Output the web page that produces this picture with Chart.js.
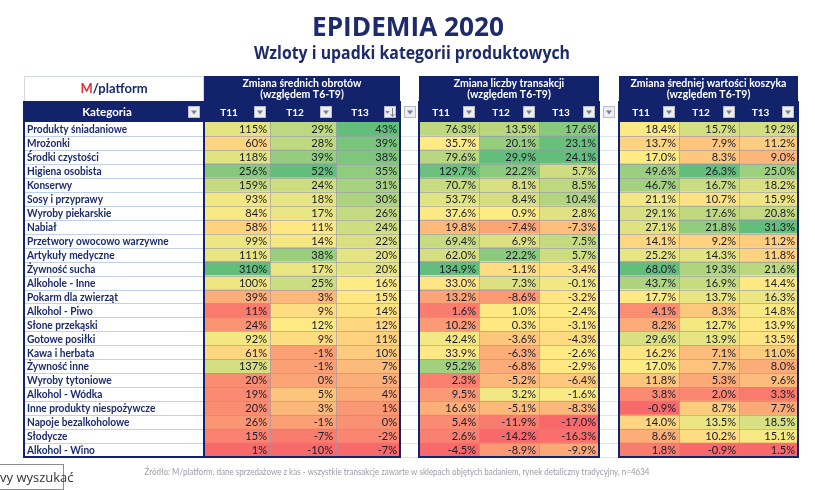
<!DOCTYPE html>
<html><head><meta charset="utf-8">
<script src="https://cdn.jsdelivr.net/npm/chart.js@4.4.0/dist/chart.umd.min.js"></script>
<style>
html,body{margin:0;padding:0;background:#fff;}
#wrap{position:relative;width:815px;height:490px;overflow:hidden;}
#search{position:absolute;left:-3px;top:464px;width:67px;height:26px;border:1px solid #8c8c8c;background:#fff;font:13px "Open Sans",sans-serif;color:#333;line-height:24px;box-sizing:border-box;padding-left:2px;white-space:nowrap;}
</style></head><body>
<div id="wrap"><canvas id="c" width="815" height="490"></canvas><div id="search">vy wyszukać</div></div>
<script>
// ---------- DATA ----------
const titleText = 'EPIDEMIA 2020';
const subtitleText = 'Wzloty i upadki kategorii produktowych';
const sourceText = 'Źródło: M/platform, dane sprzedażowe z kas - wszystkie transakcje zawarte w sklepach objętych badaniem, rynek detaliczny tradycyjny, n=4634';
const categoryHeader = 'Kategoria';
const periods = ['T11', 'T12', 'T13'];
const groupTitles = [
  ['Zmiana średnich obrotów', '(względem T6-T9)'],
  ['Zmiana liczby transakcji', '(względem T6-T9)'],
  ['Zmiana średniej wartości koszyka', '(względem T6-T9)']
];
const categories = [
  'Produkty śniadaniowe', 'Mrożonki', 'Środki czystości', 'Higiena osobista', 'Konserwy',
  'Sosy i przyprawy', 'Wyroby piekarskie', 'Nabiał', 'Przetwory owocowo warzywne', 'Artykuły medyczne',
  'Żywność sucha', 'Alkohole - Inne', 'Pokarm dla zwierząt', 'Alkohol - Piwo', 'Słone przekąski',
  'Gotowe posiłki', 'Kawa i herbata', 'Żywność inne', 'Wyroby tytoniowe', 'Alkohol - Wódka',
  'Inne produkty niespożywcze', 'Napoje bezalkoholowe', 'Słodycze', 'Alkohol - Wino'
];
const obrotyT11 = [115, 60, 118, 256, 159, 93, 84, 58, 99, 111, 310, 100, 39, 11, 24, 92, 61, 137, 20, 19, 20, 26, 15, 1];
const obrotyT12 = [29, 28, 39, 52, 24, 18, 17, 11, 14, 38, 17, 25, 3, 9, 12, 9, -1, -1, 0, 5, 3, -1, -7, -10];
const obrotyT13 = [43, 39, 38, 35, 31, 30, 26, 24, 22, 20, 20, 16, 15, 14, 12, 11, 10, 7, 5, 4, 1, 0, -2, -7];
const transT11 = [76.3, 35.7, 79.6, 129.7, 70.7, 53.7, 37.6, 19.8, 69.4, 62.0, 134.9, 33.0, 13.2, 1.6, 10.2, 42.4, 33.9, 95.2, 2.3, 9.5, 16.6, 5.4, 2.6, -4.5];
const transT12 = [13.5, 20.1, 29.9, 22.2, 8.1, 8.4, 0.9, -7.4, 6.9, 22.2, -1.1, 7.3, -8.6, 1.0, 0.3, -3.6, -6.3, -6.8, -5.2, 3.2, -5.1, -11.9, -14.2, -8.9];
const transT13 = [17.6, 23.1, 24.1, 5.7, 8.5, 10.4, 2.8, -7.3, 7.5, 5.7, -3.4, -0.1, -3.2, -2.4, -3.1, -4.3, -2.6, -2.9, -6.4, -1.6, -8.3, -17.0, -16.3, -9.9];
const koszykT11 = [18.4, 13.7, 17.0, 49.6, 46.7, 21.1, 29.1, 27.1, 14.1, 25.2, 68.0, 43.7, 17.7, 4.1, 8.2, 29.6, 16.2, 17.0, 11.8, 3.8, -0.9, 14.0, 8.6, 1.8];
const koszykT12 = [15.7, 7.9, 8.3, 26.3, 16.7, 10.7, 17.6, 21.8, 9.2, 14.3, 19.3, 16.9, 13.7, 8.3, 12.7, 13.9, 7.1, 7.7, 5.3, 2.0, 8.7, 13.5, 10.2, -0.9];
const koszykT13 = [19.2, 11.2, 9.0, 25.0, 18.2, 15.9, 20.8, 31.3, 11.2, 11.8, 21.6, 14.4, 16.3, 14.8, 13.9, 13.5, 11.0, 8.0, 9.6, 3.3, 7.7, 18.5, 15.1, 1.5];

// ---------- LAYOUT / STYLE ----------
const colWidths = [180, 66, 66, 64, 19, 60, 60, 60, 20, 60, 60, 59];
const columns = [
  {kind: 'cat'},
  {kind: 'val', data: obrotyT11, dec: 0, label: periods[0]},
  {kind: 'val', data: obrotyT12, dec: 0, label: periods[1]},
  {kind: 'val', data: obrotyT13, dec: 0, label: periods[2], sort: true},
  {kind: 'filter'},
  {kind: 'val', data: transT11, dec: 1, label: periods[0]},
  {kind: 'val', data: transT12, dec: 1, label: periods[1]},
  {kind: 'val', data: transT13, dec: 1, label: periods[2]},
  {kind: 'filter'},
  {kind: 'val', data: koszykT11, dec: 1, label: periods[0]},
  {kind: 'val', data: koszykT12, dec: 1, label: periods[1]},
  {kind: 'val', data: koszykT13, dec: 1, label: periods[2]}
];
const groups = [[1, 3], [5, 7], [9, 11]];
const NAVY = '#13236b';
const RED = [248, 105, 107], YEL = [255, 235, 132], GRN = [99, 190, 123];

function percentile(arr, p) {
  const s = [...arr].sort((a, b) => a - b);
  const idx = (s.length - 1) * p, lo = Math.floor(idx), hi = Math.ceil(idx);
  return s[lo] + (s[hi] - s[lo]) * (idx - lo);
}
function heat(v, arr) {
  const mn = Math.min(...arr), mx = Math.max(...arr), md = percentile(arr, 0.5);
  let a, b, t;
  if (v <= md) { a = RED; b = YEL; t = md === mn ? 1 : (v - mn) / (md - mn); }
  else { a = YEL; b = GRN; t = mx === md ? 0 : (v - md) / (mx - md); }
  const c = a.map((x, i) => Math.round(x + (b[i] - x) * t));
  return `rgb(${c[0]},${c[1]},${c[2]})`;
}
function txt(ctx, text, x, y, font, color, align, targetW, sx) {
  ctx.save();
  ctx.font = font; ctx.fillStyle = color; ctx.textBaseline = 'middle';
  const w = ctx.measureText(text).width;
  const s = targetW && w > 0 ? targetW / w : (sx || 1);
  ctx.translate(x, y); ctx.scale(s, 1); ctx.textAlign = align;
  ctx.fillText(text, 0, 0);
  ctx.restore();
}
function icon(ctx, x, y, sort) {
  ctx.save();
  ctx.fillStyle = '#eceef2'; ctx.strokeStyle = '#b8bcc6'; ctx.lineWidth = 1;
  ctx.fillRect(x, y, 12, 12); ctx.strokeRect(x + 0.5, y + 0.5, 11, 11);
  ctx.fillStyle = '#7c808c';
  ctx.beginPath();
  if (sort) {
    ctx.moveTo(x + 1.5, y + 5); ctx.lineTo(x + 5.5, y + 5); ctx.lineTo(x + 3.5, y + 8); ctx.closePath(); ctx.fill();
    ctx.strokeStyle = '#7c808c'; ctx.beginPath(); ctx.moveTo(x + 8.5, y + 2); ctx.lineTo(x + 8.5, y + 10);
    ctx.moveTo(x + 6.5, y + 8); ctx.lineTo(x + 8.5, y + 10.5); ctx.lineTo(x + 10.5, y + 8); ctx.stroke();
  } else {
    ctx.moveTo(x + 3, y + 4.5); ctx.lineTo(x + 9, y + 4.5); ctx.lineTo(x + 6, y + 8.5); ctx.closePath(); ctx.fill();
  }
  ctx.restore();
}

const tablePlugin = {
  id: 'table',
  beforeDraw(chart) {
    const ctx = chart.ctx;
    ctx.save(); ctx.fillStyle = '#ffffff'; ctx.fillRect(0, 0, chart.width, chart.height); ctx.restore();
  },
  afterDatasetsDraw(chart) {
    const ctx = chart.ctx, ca = chart.chartArea, xs = chart.scales.x;
    const edges = [xs.getPixelForValue(0)];
    let acc = 0; colWidths.forEach(w => { acc += w; edges.push(xs.getPixelForValue(acc)); });
    const top = ca.top, bottom = ca.bottom;
    ctx.save();
    columns.forEach((col, i) => {
      const meta = chart.getDatasetMeta(i);
      meta.data.forEach((el, j) => {
        const p = el.getProps(['x', 'y', 'base', 'height'], true);
        const l = Math.min(p.x, p.base), r = Math.max(p.x, p.base);
        const yb = Math.round(p.y + p.height / 2) + 0.5;
        ctx.lineWidth = 1;
        if (col.kind === 'cat') ctx.strokeStyle = '#c3d0ea';
        else if (col.kind === 'filter') ctx.strokeStyle = '#e2e4ec';
        else ctx.strokeStyle = 'rgba(150,150,175,0.6)';
        ctx.beginPath(); ctx.moveTo(l, yb); ctx.lineTo(r, yb); ctx.stroke();
        if (col.kind === 'val') {
          ctx.beginPath(); ctx.moveTo(Math.round(r) + 0.5, p.y - p.height / 2); ctx.lineTo(Math.round(r) + 0.5, p.y + p.height / 2); ctx.stroke();
          const v = col.data[j];
          txt(ctx, v.toFixed(col.dec) + '%', r - 3, p.y + 0.5, '11.5px Lato', '#1a1a28', 'right', null, 0.96);
        } else if (col.kind === 'cat') {
          txt(ctx, categories[j], l + 3, p.y + 0.5, 'bold 11.5px Lato', '#1b2a6b', 'left', null, 0.88);
        }
      });
    });
    const r2t = top - 20, r2b = top, r1t = top - 46, r1b = top - 21;
    columns.forEach((col, i) => {
      const l = edges[i], r = edges[i + 1];
      if (col.kind === 'filter') {
        ctx.fillStyle = '#ffffff'; ctx.fillRect(l, r2t, r - l, 20);
        icon(ctx, Math.round((l + r) / 2 - 6), r2t + 4, false);
        return;
      }
      ctx.fillStyle = NAVY; ctx.fillRect(l, r2t, r - l, 20);
      if (col.kind === 'cat') {
        txt(ctx, categoryHeader, (l + r - 14) / 2, r2t + 10.5, 'bold 11.5px Lato', '#ffffff', 'center');
        icon(ctx, Math.round(r) - 16, r2t + 4, false);
      } else {
        txt(ctx, col.label, (l + r - 16) / 2, r2t + 10.5, 'bold 10px Lato', '#ffffff', 'center');
        icon(ctx, Math.round(r) - 16, r2t + 4, !!col.sort);
        ctx.strokeStyle = 'rgba(255,255,255,0.25)'; ctx.lineWidth = 1;
        ctx.beginPath(); ctx.moveTo(Math.round(r) + 0.5, r2t); ctx.lineTo(Math.round(r) + 0.5, r2b); ctx.stroke();
      }
    });
    groups.forEach((g, k) => {
      const l = edges[g[0]], r = edges[g[1] + 1];
      ctx.fillStyle = NAVY; ctx.fillRect(l, r1t, r - l, r1b - r1t);
      txt(ctx, groupTitles[k][0], (l + r) / 2, r1t + 7.5, 'bold 10.5px Lato', '#ffffff', 'center');
      txt(ctx, groupTitles[k][1], (l + r) / 2, r1t + 19, 'bold 10.5px Lato', '#ffffff', 'center');
    });
    const ll = edges[0], lr = edges[1];
    ctx.strokeStyle = '#d3d7e2'; ctx.lineWidth = 1;
    ctx.strokeRect(Math.round(ll) + 0.5, r1t + 0.5, lr - ll - 1, r1b - r1t);
    ctx.font = 'bold 13px Lato';
    const wM = ctx.measureText('M').width, wP = ctx.measureText('/platform').width;
    const lx = (ll + lr) / 2 - (wM + wP) / 2;
    txt(ctx, 'M', lx, r1t + 13, 'bold 13px Lato', '#e3323f', 'left');
    txt(ctx, '/platform', lx + wM, r1t + 13, 'bold 13px Lato', '#1b2a6b', 'left');
    ctx.strokeStyle = NAVY; ctx.lineWidth = 2;
    [[0, 0], ...groups].forEach(g => {
      const l = edges[g[0]], r = edges[g[1] + 1];
      ctx.strokeRect(l, top - 20, r - l, bottom - top + 20);
    });
    txt(ctx, titleText, 408, 28, 'bold 27px "Open Sans"', '#1d2a6c', 'center', 192);
    txt(ctx, subtitleText, 412, 54, 'bold 18px "Open Sans"', '#1d2a6c', 'center', 316);
    txt(ctx, sourceText, 397, 472, '8.5px Lato', '#9c9ca8', 'center', 505);
    ctx.restore();
  }
};

const ctx = document.getElementById('c').getContext('2d');
new Chart(ctx, {
  type: 'bar',
  data: {
    labels: categories,
    datasets: columns.map((col, i) => ({
      label: col.label || (col.kind === 'cat' ? categoryHeader : ''),
      data: categories.map(() => colWidths[i]),
      backgroundColor: col.kind === 'val' ? col.data.map(v => heat(v, col.data)) : '#ffffff',
      borderWidth: 0,
      barPercentage: 1,
      categoryPercentage: 1,
      stack: 'table'
    }))
  },
  options: {
    indexAxis: 'y',
    responsive: false,
    devicePixelRatio: 1,
    animation: false,
    events: [],
    layout: {padding: {left: 24, right: 17, top: 122, bottom: 33}},
    scales: {
      x: {type: 'linear', stacked: true, min: 0, max: colWidths.reduce((a, b) => a + b, 0), display: false},
      y: {type: 'category', stacked: true, display: false, offset: true}
    },
    plugins: {legend: {display: false}, tooltip: {enabled: false}, title: {display: false}}
  },
  plugins: [tablePlugin]
});
</script>
</body></html>
